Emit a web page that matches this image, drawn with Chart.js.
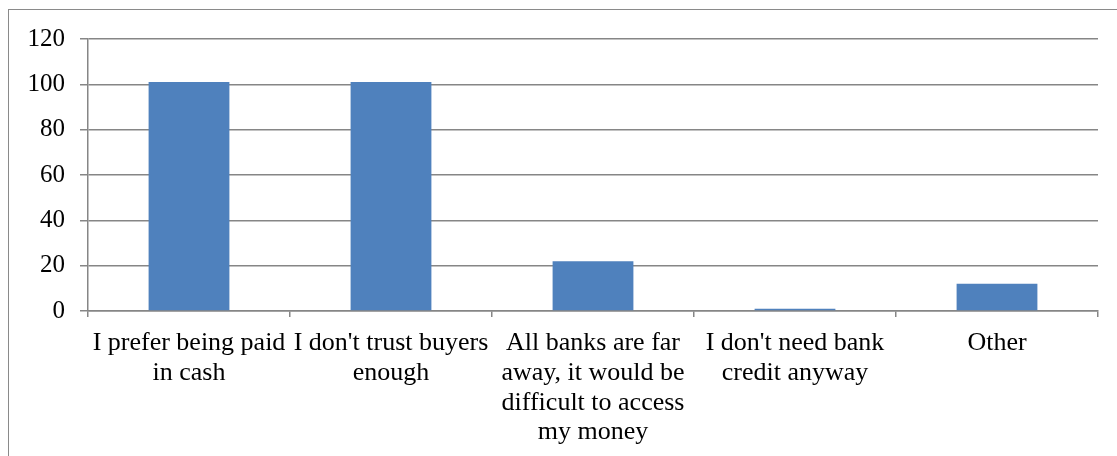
<!DOCTYPE html>
<html>
<head>
<meta charset="utf-8">
<script src="https://cdn.jsdelivr.net/npm/chart.js@4/dist/chart.umd.min.js"></script>
<style>
    html, body { margin: 0; padding: 0; background: #fff; }
    #wrap { position: relative; width: 1117px; height: 456px; overflow: hidden; }
    #frame { position: absolute; left: 8px; top: 9px; width: 1200px; height: 500px;
             border-top: 1.5px solid #8a8a8a; border-left: 1.5px solid #8a8a8a; }
    canvas { position: absolute; left: 0; top: 0; }
</style>
</head>
<body>
<div id="wrap">
    <div id="frame"></div>
    <canvas id="reasonChart" width="1117" height="456"></canvas>
</div>
<script>
// reasons for not using a bank account
var reasons = [
    ["I prefer being paid", "in cash"],
    ["I don't trust buyers", "enough"],
    ["All banks are far", "away, it would be", "difficult to access", "my money"],
    ["I don't need bank", "credit anyway"],
    "Other"
];
var counts = [101, 101, 22, 1, 12];

var yMin = 0, yMax = 120, yStep = 20;

var axisGray = '#868686';
var serif = '"Liberation Serif", "Times New Roman", serif';

const ctx = document.getElementById('reasonChart').getContext('2d');

const reasonChart = new Chart(ctx, {
    type: 'bar',
    data: {
        labels: reasons,
        datasets: [{
            data: counts,
            backgroundColor: '#4F81BD',
            borderWidth: 0,
            barPercentage: 0.4,
            categoryPercentage: 1.0
        }]
    },
    options: {
        responsive: false,
        animation: false,
        events: [],
        layout: { padding: { top: 39, right: 19, left: 0, bottom: 0 } },
        plugins: {
            legend: { display: false },
            tooltip: { enabled: false }
        },
        scales: {
            x: {
                offset: true,
                grid: {
                    offset: true,
                    drawOnChartArea: false,
                    color: axisGray,
                    lineWidth: 1.5,
                    tickLength: 6
                },
                border: { color: axisGray, width: 1.5 },
                ticks: {
                    color: '#000',
                    font: { family: serif, size: 26, lineHeight: 1.15 },
                    padding: 11,
                    maxRotation: 0,
                    autoSkip: false
                },
                afterFit: function (scale) { scale.height = 145; }
            },
            y: {
                min: yMin,
                max: yMax,
                grid: {
                    color: axisGray,
                    lineWidth: 1.5,
                    tickLength: 8
                },
                border: { color: axisGray, width: 1.5 },
                ticks: {
                    stepSize: yStep,
                    color: '#000',
                    font: { family: serif, size: 25 },
                    padding: 15
                },
                afterFit: function (scale) { scale.width = 88; }
            }
        }
    }
});
</script>
</body>
</html>
